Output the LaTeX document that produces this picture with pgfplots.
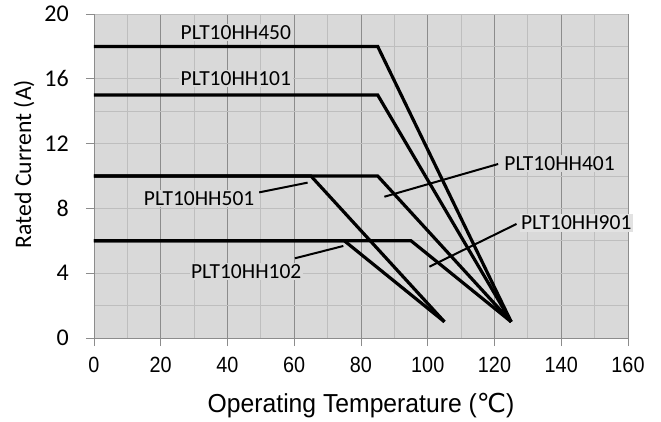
\documentclass[border=0pt]{standalone}
\usepackage{fontspec}
\setmainfont{Carlito}
\newfontfamily\arialn[FakeStretch=0.9]{Liberation Sans}
\newfontfamily\ariallab[FakeStretch=0.95]{Liberation Sans}
\newfontfamily\dejavu{DejaVu Sans}
\usepackage{pgfplots}
\pgfplotsset{compat=1.18}
\definecolor{bg}{HTML}{D9D9D9}
\definecolor{bglight}{HTML}{E2E2E2}
\definecolor{gmaj}{HTML}{8C8C8C}
\definecolor{gmin}{HTML}{BEBEBE}
\definecolor{axc}{HTML}{8C8C8C}
\begin{document}
\begin{tikzpicture}
\begin{axis}[
  scale only axis, width=534pt, height=324pt,
  xmin=0, xmax=160, ymin=0, ymax=20,
  xtick={0,20,...,160}, ytick={0,4,...,20},
  xticklabels={0,20,40,60,80,100,120,140,160},
  yticklabels={0,4,8,12,16,20},
  minor xtick={10,30,...,150}, minor ytick={2,6,...,18},
  grid=both,
  major x grid style={gmaj, line width=0.8pt},
  minor x grid style={gmin, line width=0.8pt},
  major y grid style={gmin, line width=0.8pt},
  minor y grid style={gmin, line width=0.8pt},
  axis lines*=left,
  axis line style={axc, line width=0.8pt},
  tick align=outside, major tick length=8pt, minor tick length=0pt,
  tick style={axc, line width=0.8pt},
  axis background/.style={fill=bg},
  clip=false,
  xticklabel style={font=\arialn\fontsize{22}{26}\selectfont, inner sep=0pt, anchor=north, yshift=-11pt},
  yticklabel style={font=\fontsize{24}{28}\selectfont, inner sep=0pt, anchor=east, xshift=-17pt},
  xlabel={Operating Temperature ({\dejavu ℃})},
  xlabel style={font=\ariallab\fontsize{26}{30}\selectfont, at={(axis description cs:0.5,-0.230)}, anchor=base},
  ylabel={Rated Current (A)},
  ylabel style={font=\fontsize{23.7}{28}\selectfont, at={(axis description cs:-0.1311,0.537)}, anchor=center},
]
\addplot[black, line width=3.2pt] coordinates {(0,18) (85,18) (125,1)};
\addplot[black, line width=3.2pt] coordinates {(0,15) (85,15) (125,1)};
\addplot[black, line width=3.2pt] coordinates {(0,10) (85,10) (125,1)};
\addplot[black, line width=3.2pt] coordinates {(0,10) (65,10) (105,1)};
\addplot[black, line width=3.2pt] coordinates {(0,6) (95,6) (125,1)};
\addplot[black, line width=3.2pt] coordinates {(0,6) (75,6) (105,1)};
% leader lines
\addplot[black, line width=2pt] coordinates {(49.5,8.99) (64.0,9.59)};
\addplot[black, line width=2pt] coordinates {(60.2,4.92) (74.7,5.68)};
\addplot[black, line width=2pt] coordinates {(87.0,8.72) (121.1,10.74)};
\addplot[black, line width=2pt] coordinates {(100.5,4.40) (126.6,7.04)};
\tikzset{lab/.style={fill=bg, inner sep=1.5pt, font=\fontsize{21.5}{24}\selectfont}}
\node[lab] at (axis cs:42.5,18.88) {PLT10HH450};
\node[lab] at (axis cs:42.5,16.0) {PLT10HH101};
\node[lab] at (axis cs:31.5,8.62) {PLT10HH501};
\node[lab] at (axis cs:45.6,4.12) {PLT10HH102};
\node[lab] at (axis cs:139.5,10.78) {PLT10HH401};
\node[lab, fill=bglight] at (axis cs:144.5,7.1) {PLT10HH901};
\end{axis}
\pgfresetboundingbox
\useasboundingbox (-94pt,-83pt) rectangle (567pt,338pt);
\end{tikzpicture}
\end{document}
